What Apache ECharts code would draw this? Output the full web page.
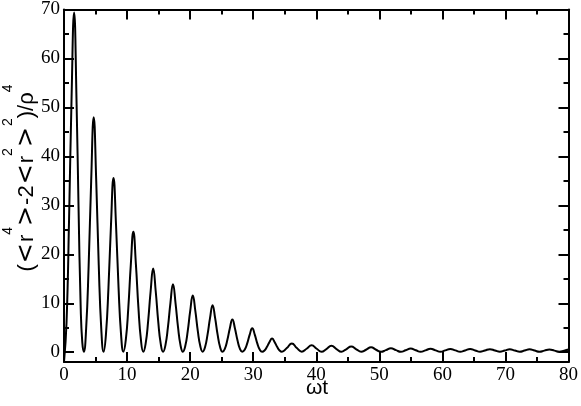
<!DOCTYPE html>
<html>
<head>
<meta charset="utf-8">
<script src="https://cdn.jsdelivr.net/npm/echarts@6/dist/echarts.min.js"></script>
<style>
html,body{margin:0;padding:0;background:#fff;}
#chart{width:581px;height:406px;}
</style>
</head>
<body>
<div id="chart"></div>
<script>
// ωt sample positions (troughs, flanks, peaks)
const omegaT = [
  0, 0.4, 0.8, 1.2, 1.6, 2.0, 2.3, 2.65, 2.9, 3.14,
  3.51, 3.91, 4.31, 4.71, 5.11, 5.51, 5.91, 6.28,
  6.65, 7.05, 7.45, 7.85, 8.25, 8.65, 9.05, 9.42,
  9.8, 10.2, 10.6, 11.0, 11.4, 11.8, 12.2, 12.57,
  12.94, 13.34, 13.74, 14.14, 14.54, 14.94, 15.34, 15.71,
  16.08, 16.48, 16.88, 17.28, 17.68, 18.08, 18.48, 18.85,
  19.22, 19.62, 20.02, 20.42, 20.82, 21.22, 21.62, 21.99,
  22.36, 22.76, 23.16, 23.56, 23.96, 24.36, 24.76, 25.13,
  25.5, 25.9, 26.3, 26.7, 27.1, 27.5, 27.9, 28.27,
  28.65, 29.05, 29.45, 29.85, 30.25, 30.65, 31.05, 31.42,
  31.79, 32.19, 32.59, 32.99, 33.39, 33.79, 34.19, 34.56,
  35.33, 36.13, 36.93, 37.7,
  38.47, 39.27, 40.07, 40.84,
  41.61, 42.41, 43.21, 43.98,
  44.75, 45.55, 46.35, 47.12,
  47.89, 48.69, 49.49, 50.27,
  51.04, 51.84, 52.64, 53.41,
  54.18, 54.98, 55.78, 56.55,
  57.32, 58.12, 58.92, 59.69,
  60.46, 61.26, 62.06, 62.83,
  63.6, 64.4, 65.2, 65.97,
  66.74, 67.54, 68.34, 69.12,
  69.89, 70.69, 71.49, 72.26,
  73.03, 73.83, 74.63, 75.4,
  76.17, 76.97, 77.77, 78.54,
  79.31, 80
];
// (<r^4>-2<r^2>^2)/rho^4 values
const moment = [
  -2.0, 6, 27, 52, 69.4, 50.5, 30, 9, 2, 0.1,
  4.8, 17.8, 35.0, 48.0, 35.0, 17.8, 4.8, 0.1,
  3.6, 13.2, 26.0, 35.6, 26.0, 13.2, 3.6, 0.1,
  2.5, 9.1, 18.0, 24.6, 18.0, 9.1, 2.5, 0.1,
  1.7, 6.3, 12.5, 17.1, 12.5, 6.3, 1.7, 0.1,
  1.4, 5.1, 10.1, 13.9, 10.1, 5.1, 1.4, 0.1,
  1.2, 4.3, 8.5, 11.6, 8.5, 4.3, 1.2, 0.1,
  1.0, 3.6, 7.0, 9.6, 7.0, 3.6, 1.0, 0.1,
  0.7, 2.5, 4.9, 6.7, 4.9, 2.5, 0.7, 0.1,
  0.5, 1.8, 3.6, 4.9, 3.6, 1.8, 0.5, 0.1,
  0.35, 1.1, 2.1, 2.8, 2.1, 1.1, 0.35, 0.1,
  0.85, 1.8, 0.85, 0.1,
  0.7, 1.4, 0.7, 0.1,
  0.65, 1.3, 0.65, 0.1,
  0.6, 1.15, 0.6, 0.1,
  0.5, 1.0, 0.5, 0.1,
  0.42, 0.8, 0.42, 0.1,
  0.4, 0.75, 0.4, 0.1,
  0.38, 0.7, 0.38, 0.1,
  0.37, 0.68, 0.37, 0.1,
  0.36, 0.65, 0.36, 0.1,
  0.35, 0.62, 0.35, 0.1,
  0.34, 0.6, 0.34, 0.1,
  0.33, 0.58, 0.33, 0.1,
  0.32, 0.55, 0.32, 0.1,
  0.31, 0.55
];
const yMajorTicks = [0, 10, 20, 30, 40, 50, 60, 70];
const yMinorTicks = [5, 15, 25, 35, 45, 55, 65];
const xTitle = 'ωt';

const chart = echarts.init(document.getElementById('chart'), null, {renderer: 'canvas'});
const lineCol = '#000';
const axW = 2;
const serif = 'Liberation Serif';
const sans = 'Liberation Sans';

function xAxisDef(pos, labels) {
  return {
    type: 'value', position: pos, min: 0, max: 80, interval: 10,
    axisLine: {show: true, onZero: false, lineStyle: {color: lineCol, width: axW}},
    axisTick: {show: true, inside: true, length: 10, lineStyle: {color: lineCol, width: axW}},
    minorTick: {show: true, splitNumber: 2, length: 5, lineStyle: {color: lineCol, width: axW}},
    axisLabel: {show: labels, margin: 4, color: '#000', fontFamily: serif, fontSize: 19,
                showMinLabel: true, showMaxLabel: true},
    splitLine: {show: false}, minorSplitLine: {show: false}
  };
}
function yAxisDef(pos, ticks, len, labels, line) {
  return {
    type: 'value', position: pos, offset: 0, min: -2, max: 70,
    axisLine: {show: line, onZero: false, lineStyle: {color: lineCol, width: axW}},
    axisTick: {show: true, inside: true, length: len, customValues: ticks,
               lineStyle: {color: lineCol, width: axW}},
    axisLabel: {show: labels, customValues: ticks, margin: 4, color: '#000',
                fontFamily: serif, fontSize: 19},
    splitLine: {show: false}
  };
}

const option = {
  animation: false,
  backgroundColor: '#fff',
  grid: {left: 64, right: 11, top: 9, bottom: 44, containLabel: false},
  xAxis: [xAxisDef('bottom', true), xAxisDef('top', false)],
  yAxis: [
    yAxisDef('left', yMajorTicks, 10, true, true),
    yAxisDef('left', yMinorTicks, 5, false, false),
    yAxisDef('right', yMajorTicks, 10, false, true),
    yAxisDef('right', yMinorTicks, 5, false, false)
  ],
  graphic: [
    {
      type: 'text', x: 317, y: 388,
      style: {text: xTitle, fontFamily: sans, fontSize: 21, fill: '#000',
              align: 'center', verticalAlign: 'middle'}
    },
    {
      type: 'text', x: 17, y: 178, rotation: Math.PI / 2,
      style: {
        text: '{m|(}{a|<}{m|r}{s|4}{a|>}{m|-2}{a|<}{m|r}{s|2}{a|>}{s|2}{m|)/ρ}{s|4}',
        align: 'center', verticalAlign: 'middle',
        rich: {
          m: {fontFamily: sans, fontSize: 22, fill: '#000', lineHeight: 22, padding: [20, 0, 0, 0]},
          a: {fontFamily: 'DejaVu Sans', fontSize: 24, fill: '#000', lineHeight: 22, padding: [20, 1, 0, 1]},
          s: {fontFamily: sans, fontSize: 14, fill: '#000', lineHeight: 14, padding: [0, 0, 18, 0]}
        }
      }
    }
  ],
  series: [{
    type: 'line',
    xAxisIndex: 0, yAxisIndex: 0,
    data: omegaT.map((t, i) => [t, moment[i]]),
    showSymbol: false, symbol: 'none',
    smooth: 0.5,
    lineStyle: {color: '#000', width: 2},
    clip: true
  }]
};
chart.setOption(option);
</script>
</body>
</html>
